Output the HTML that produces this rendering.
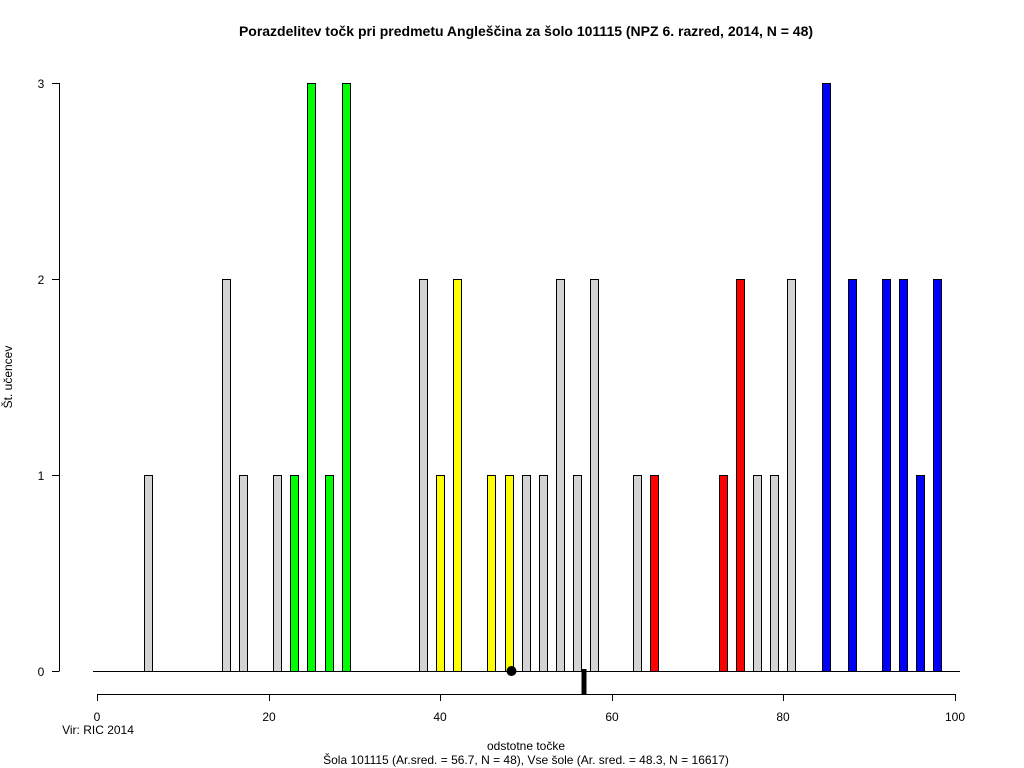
<!DOCTYPE html>
<html><head><meta charset="utf-8"><style>body{margin:0;background:#fff}svg{display:block}</style></head>
<body>
<svg width="1024" height="768" xmlns="http://www.w3.org/2000/svg" font-family="Liberation Sans, Arial, sans-serif">
<rect width="1024" height="768" fill="#fff"/>
<text x="526" y="36" font-size="14" font-weight="bold" text-anchor="middle">Porazdelitev točk pri predmetu Angleščina za šolo 101115 (NPZ 6. razred, 2014, N = 48)</text>
<g stroke="#000" stroke-width="1" fill="none">
<line x1="59.5" y1="83" x2="59.5" y2="671"/>
<line x1="52" y1="83.5" x2="59.5" y2="83.5"/>
<line x1="52" y1="279.5" x2="59.5" y2="279.5"/>
<line x1="52" y1="475.5" x2="59.5" y2="475.5"/>
<line x1="52" y1="671.5" x2="59.5" y2="671.5"/>
<line x1="97" y1="694.5" x2="955" y2="694.5"/>
<line x1="97.5" y1="694" x2="97.5" y2="701"/>
<line x1="269.5" y1="694" x2="269.5" y2="701"/>
<line x1="440.5" y1="694" x2="440.5" y2="701"/>
<line x1="612.5" y1="694" x2="612.5" y2="701"/>
<line x1="783.5" y1="694" x2="783.5" y2="701"/>
<line x1="955.5" y1="694" x2="955.5" y2="701"/>
</g>
<g font-size="12" text-anchor="middle">
<text x="41" y="88">3</text><text x="41" y="284">2</text><text x="41" y="480">1</text><text x="41" y="676">0</text>
<text x="97" y="721">0</text><text x="269" y="721">20</text><text x="440" y="721">40</text><text x="612" y="721">60</text><text x="783" y="721">80</text><text x="955" y="721">100</text>
<text x="526" y="750">odstotne točke</text>
<text x="526" y="764">Šola 101115 (Ar.sred. = 56.7, N = 48), Vse šole (Ar. sred. = 48.3, N = 16617)</text>
<text x="98" y="734">Vir: RIC 2014</text>
<text transform="translate(12,377) rotate(-90)">Št. učencev</text>
</g>
<g stroke="#000" stroke-width="1">
<rect x="144.5" y="475.5" width="8" height="196" fill="#d3d3d3"/>
<rect x="222.5" y="279.5" width="8" height="392" fill="#d3d3d3"/>
<rect x="239.5" y="475.5" width="8" height="196" fill="#d3d3d3"/>
<rect x="273.5" y="475.5" width="8" height="196" fill="#d3d3d3"/>
<rect x="290.5" y="475.5" width="8" height="196" fill="#00ff00"/>
<rect x="307.5" y="83.5" width="8" height="588" fill="#00ff00"/>
<rect x="325.5" y="475.5" width="8" height="196" fill="#00ff00"/>
<rect x="342.5" y="83.5" width="8" height="588" fill="#00ff00"/>
<rect x="419.5" y="279.5" width="8" height="392" fill="#d3d3d3"/>
<rect x="436.5" y="475.5" width="8" height="196" fill="#ffff00"/>
<rect x="453.5" y="279.5" width="8" height="392" fill="#ffff00"/>
<rect x="487.5" y="475.5" width="8" height="196" fill="#ffff00"/>
<rect x="505.5" y="475.5" width="8" height="196" fill="#ffff00"/>
<rect x="522.5" y="475.5" width="8" height="196" fill="#d3d3d3"/>
<rect x="539.5" y="475.5" width="8" height="196" fill="#d3d3d3"/>
<rect x="556.5" y="279.5" width="8" height="392" fill="#d3d3d3"/>
<rect x="573.5" y="475.5" width="8" height="196" fill="#d3d3d3"/>
<rect x="590.5" y="279.5" width="8" height="392" fill="#d3d3d3"/>
<rect x="633.5" y="475.5" width="8" height="196" fill="#d3d3d3"/>
<rect x="650.5" y="475.5" width="8" height="196" fill="#ff0000"/>
<rect x="719.5" y="475.5" width="8" height="196" fill="#ff0000"/>
<rect x="736.5" y="279.5" width="8" height="392" fill="#ff0000"/>
<rect x="753.5" y="475.5" width="8" height="196" fill="#d3d3d3"/>
<rect x="770.5" y="475.5" width="8" height="196" fill="#d3d3d3"/>
<rect x="787.5" y="279.5" width="8" height="392" fill="#d3d3d3"/>
<rect x="822.5" y="83.5" width="8" height="588" fill="#0000ff"/>
<rect x="848.5" y="279.5" width="8" height="392" fill="#0000ff"/>
<rect x="882.5" y="279.5" width="8" height="392" fill="#0000ff"/>
<rect x="899.5" y="279.5" width="8" height="392" fill="#0000ff"/>
<rect x="916.5" y="475.5" width="8" height="196" fill="#0000ff"/>
<rect x="933.5" y="279.5" width="8" height="392" fill="#0000ff"/>
</g>
<line x1="93" y1="671.5" x2="960" y2="671.5" stroke="#000"/>
<rect x="581.5" y="669" width="5" height="25" fill="#000"/>
<circle cx="511.5" cy="671" r="5" fill="#000"/>
</svg>
</body></html>
